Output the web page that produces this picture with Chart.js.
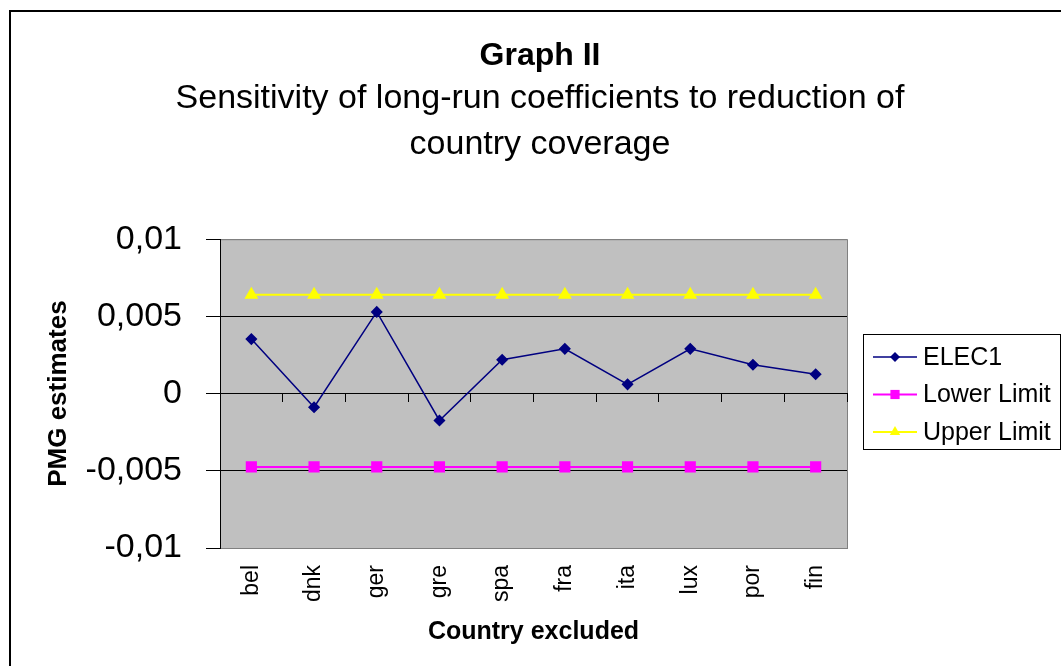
<!DOCTYPE html>
<html>
<head>
<meta charset="utf-8">
<script src="https://cdn.jsdelivr.net/npm/chart.js@4/dist/chart.umd.min.js"></script>
<style>
  body { margin: 0; background: #fff; }
  #myChart { display: block; }
</style>
</head>
<body>
<canvas id="myChart" width="1061" height="666"></canvas>
<script>
// data
const countries = ["bel", "dnk", "ger", "gre", "spa", "fra", "ita", "lux", "por", "fin"];
const elec1 = [0.00353, -0.00088, 0.00529, -0.00174, 0.00219, 0.0029, 0.0006, 0.0029, 0.00187, 0.00125];
const lowerLimit = [-0.00475, -0.00475, -0.00475, -0.00475, -0.00475, -0.00475, -0.00475, -0.00475, -0.00475, -0.00475];
const upperLimit = [0.0064, 0.0064, 0.0064, 0.0064, 0.0064, 0.0064, 0.0064, 0.0064, 0.0064, 0.0064];
const yMin = -0.01;
const yMax = 0.01;
const yStep = 0.005;

const FONT = "'Liberation Sans', Arial, sans-serif";

// small marker drawer used by the legend
const drawMarker = (ctx, style, x, y, r, color) => {
  ctx.save();
  ctx.fillStyle = color;
  ctx.beginPath();
  if (style === "rectRot") {
    ctx.moveTo(x, y - r); ctx.lineTo(x + r, y); ctx.lineTo(x, y + r); ctx.lineTo(x - r, y);
  } else if (style === "rect") {
    const h = r * Math.SQRT1_2;
    ctx.rect(x - h, y - h, 2 * h, 2 * h);
  } else {
    ctx.moveTo(x, y - r); ctx.lineTo(x + r * 0.87, y + r * 0.5); ctx.lineTo(x - r * 0.87, y + r * 0.5);
  }
  ctx.closePath();
  ctx.fill();
  ctx.restore();
};

// grey plot area, outer frame and the boxed legend
const excelLook = {
  id: "excelLook",
  beforeDraw(chart) {
    const { ctx, chartArea: a } = chart;
    ctx.save();
    ctx.fillStyle = "#C0C0C0";
    ctx.fillRect(a.left, a.top, a.right - a.left, a.bottom - a.top);
    ctx.strokeStyle = "#808080";
    ctx.lineWidth = 1;
    ctx.strokeRect(a.left + 0.5, a.top + 0.5, a.right - a.left, a.bottom - a.top);
    ctx.strokeStyle = "#000";
    ctx.lineWidth = 2;
    ctx.strokeRect(10, 11, 1200, 1000);
    ctx.restore();
  },
  afterDraw(chart) {
    const { ctx, chartArea: a } = chart;
    const left = a.right + 16;
    const top = 334;
    ctx.save();
    ctx.fillStyle = "#fff";
    ctx.fillRect(left, top, 197, 115);
    ctx.strokeStyle = "#000";
    ctx.lineWidth = 1;
    ctx.strokeRect(left + 0.5, top + 0.5, 197, 115);
    ctx.font = "25px " + FONT;
    ctx.textBaseline = "middle";
    chart.data.datasets.forEach((ds, i) => {
      const y = top + 23 + i * 37.5;
      ctx.strokeStyle = ds.borderColor;
      ctx.lineWidth = ds.borderWidth;
      ctx.beginPath();
      ctx.moveTo(left + 10, y);
      ctx.lineTo(left + 54, y);
      ctx.stroke();
      drawMarker(ctx, ds.pointStyle, left + 32, y, ds.pointRadius, ds.backgroundColor);
      ctx.fillStyle = "#000";
      ctx.fillText(ds.label, left + 60, y + 1);
    });
    ctx.restore();
  },
};

const ctx = document.getElementById("myChart");
const myChart = new Chart(ctx, {
  type: "line",
  data: {
    labels: countries,
    datasets: [
      {
        label: "ELEC1",
        data: elec1,
        borderColor: "#000080",
        backgroundColor: "#000080",
        borderWidth: 1.5,
        pointStyle: "rectRot",
        pointRadius: 5,
        pointHoverRadius: 5,
      },
      {
        label: "Lower Limit",
        data: lowerLimit,
        borderColor: "#FF00FF",
        backgroundColor: "#FF00FF",
        borderWidth: 2,
        pointStyle: "rect",
        pointRadius: 6.5,
        pointHoverRadius: 6.5,
      },
      {
        label: "Upper Limit",
        data: upperLimit,
        borderColor: "#FFFF00",
        backgroundColor: "#FFFF00",
        borderWidth: 2,
        pointStyle: "triangle",
        pointRadius: 6,
        pointHoverRadius: 6,
      },
    ],
  },
  options: {
    responsive: false,
    animation: false,
    layout: { padding: { left: 19, top: 11, right: 0, bottom: 0 } },
    plugins: {
      legend: { display: false },
      tooltip: { enabled: false },
      title: {
        display: true,
        text: "Graph II",
        color: "#000",
        font: { family: FONT, size: 32, weight: "bold" },
        padding: { top: 26, bottom: 0 },
      },
      subtitle: {
        display: true,
        text: ["Sensitivity of long-run coefficients to reduction of", "country coverage"],
        color: "#000",
        font: { family: FONT, size: 34, lineHeight: 1.35 },
        padding: { top: 0, bottom: 72 },
      },
    },
    scales: {
      x: {
        type: "category",
        offset: true,
        grid: { display: false, drawTicks: false },
        border: { display: false },
        ticks: {
          color: "#000",
          font: { family: FONT, size: 23 },
          minRotation: 90,
          maxRotation: 90,
          padding: 17,
        },
        title: {
          display: true,
          text: "Country excluded",
          color: "#000",
          font: { family: FONT, size: 25, weight: "bold" },
          padding: { top: 16, bottom: 19 },
        },
        afterFit: (scale) => {
          scale.height = 118;
        },
      },
      // category axis drawn through zero, only for its tick marks
      x2: {
        type: "category",
        axis: "x",
        position: { y: 0 },
        offset: true,
        grid: { drawOnChartArea: false, offset: true, tickLength: 8, color: "#000" },
        border: { color: "#000", width: 1 },
        ticks: { display: false },
      },
      y: {
        min: yMin,
        max: yMax,
        grid: {
          color: (c) => (c.tick && Math.abs(c.tick.value) > 0.009 ? "#808080" : "#000"),
          tickColor: "#000",
          tickLength: 14,
        },
        border: { color: "#000", width: 1 },
        ticks: {
          stepSize: yStep,
          color: "#000",
          padding: 24,
          font: { family: FONT, size: 34 },
          callback: (v) => String(v).replace(".", ","),
        },
        title: {
          display: true,
          text: "PMG estimates",
          color: "#000",
          font: { family: FONT, size: 26, weight: "bold" },
          padding: { top: 24, bottom: 14 },
        },
        afterFit: (scale) => {
          scale.width = 201;
        },
      },
      // empty right axis that keeps room for the legend box
      yRight: {
        type: "linear",
        position: "right",
        grid: { display: false },
        border: { display: false },
        ticks: { display: false },
        afterFit: (scale) => {
          scale.width = 214;
        },
      },
    },
  },
  plugins: [excelLook],
});
</script>
</body>
</html>
